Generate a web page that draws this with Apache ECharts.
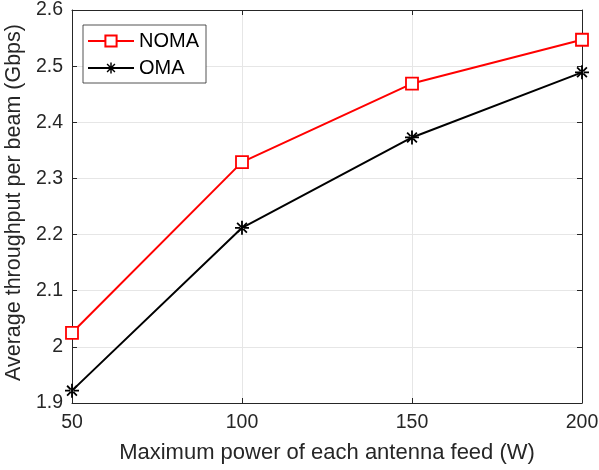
<!DOCTYPE html>
<html><head><meta charset="utf-8">
<script src="https://cdn.jsdelivr.net/npm/echarts@6/dist/echarts.min.js"></script>
<style>html,body{margin:0;padding:0;background:#fff}#c{width:599px;height:470px}</style>
</head><body><div id="c"></div>
<script>
const xValues = [50, 100, 150, 200];
const nomaValues = [2.025, 2.329, 2.469, 2.547];
const omaValues = [1.922, 2.212, 2.373, 2.489];
const seriesNames = ['NOMA', 'OMA'];
const xTitle = 'Maximum power of each antenna feed (W)';
const yTitle = 'Average throughput per beam (Gbps)';

const star = 'path://M-1.3,-10L1.3,-10L1.3,10L-1.3,10Z M-10,-1.3L-10,1.3L10,1.3L10,-1.3Z M-7.9,-6.1L-6.1,-7.9L7.9,6.1L6.1,7.9Z M6.1,-7.9L7.9,-6.1L-6.1,7.9L-7.9,6.1Z';
const font = 'Liberation Sans, Arial, Helvetica, sans-serif';
const ax = '#262626';
const chart = echarts.init(document.getElementById('c'));
const pair = (xs, ys) => xs.map((x, i) => [x, ys[i]]);
chart.setOption({
  animation: false,
  grid: {left: 72, right: 17, top: 10, bottom: 67, containLabel: false, outerBoundsMode: 'none'},
  legend: {
    left: 83, top: 25, orient: 'vertical',
    borderColor: ax, borderWidth: 0.8, backgroundColor: '#fff',
    padding: [6, 7, 5, 4], itemGap: 7, itemWidth: 46, itemHeight: 14,
    textStyle: {fontFamily: font, fontSize: 20, lineHeight: 20, color: '#000'},
    data: seriesNames
  },
  xAxis: [{
    type: 'value', min: 50, max: 200, interval: 50,
    name: xTitle, nameLocation: 'middle', nameGap: 39,
    nameTextStyle: {fontFamily: font, fontSize: 22, color: ax},
    axisLine: {show: true, lineStyle: {color: ax, width: 1}},
    axisTick: {show: true, inside: true, length: 5, lineStyle: {color: ax}},
    axisLabel: {fontFamily: font, fontSize: 19.5, color: ax, margin: 10},
    splitLine: {show: true, lineStyle: {color: '#e6e6e6', width: 1}}
  }, {
    type: 'value', min: 50, max: 200, interval: 50, position: 'top',
    axisLine: {show: true, onZero: false, lineStyle: {color: ax, width: 1}},
    axisTick: {show: true, inside: true, length: 5, lineStyle: {color: ax}},
    axisLabel: {show: false}, splitLine: {show: false}
  }],
  yAxis: [{
    type: 'value', min: 1.9, max: 2.6, interval: 0.1,
    name: yTitle, nameLocation: 'middle', nameGap: 41,
    nameTextStyle: {fontFamily: font, fontSize: 21.5, color: ax, padding: [0, 0, 0, 8]},
    axisLine: {show: true, lineStyle: {color: ax, width: 1}},
    axisTick: {show: true, inside: true, length: 5, lineStyle: {color: ax}},
    axisLabel: {fontFamily: font, fontSize: 19.5, color: ax, margin: 9,
      formatter: v => String(Math.round(v * 10) / 10)},
    splitLine: {show: true, lineStyle: {color: '#e6e6e6', width: 1}}
  }, {
    type: 'value', min: 1.9, max: 2.6, interval: 0.1, position: 'right',
    axisLine: {show: true, onZero: false, lineStyle: {color: ax, width: 1}},
    axisTick: {show: true, inside: true, length: 5, lineStyle: {color: ax}},
    axisLabel: {show: false}, splitLine: {show: false}
  }],
  series: [{
    name: seriesNames[0], type: 'line', data: pair(xValues, nomaValues),
    symbol: 'rect', symbolSize: 12,
    lineStyle: {color: '#ff0000', width: 2},
    itemStyle: {color: '#fff', borderColor: '#ff0000', borderWidth: 1.8}
  }, {
    name: seriesNames[1], type: 'line', data: pair(xValues, omaValues),
    symbol: star, symbolSize: 14,
    lineStyle: {color: '#000', width: 2},
    itemStyle: {color: '#000', borderWidth: 0}
  }]
});
</script></body></html>
